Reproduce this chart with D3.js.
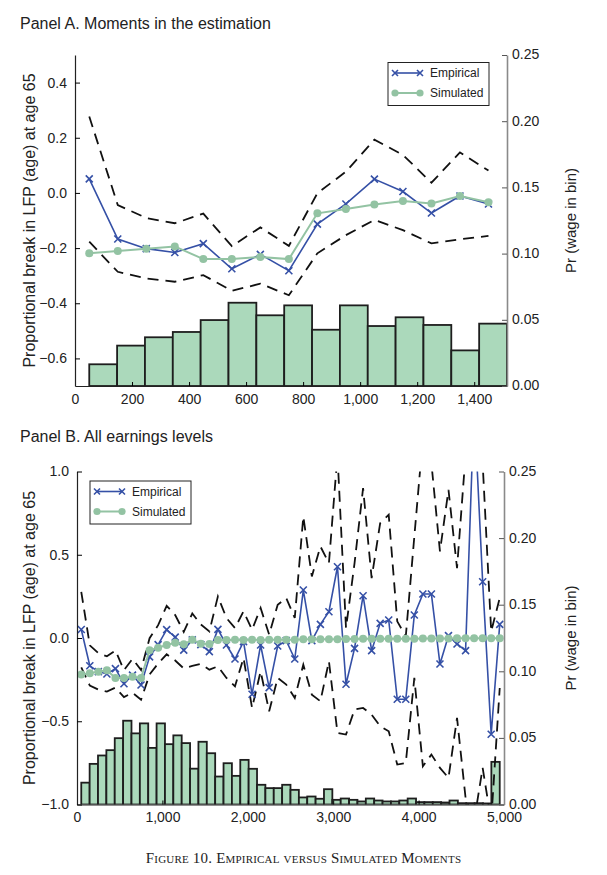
<!DOCTYPE html>
<html><head><meta charset="utf-8">
<script src="https://cdn.jsdelivr.net/npm/d3@7"></script>
<style>
body{margin:0;background:#fff;}
svg text{fill:#222;}
</style></head>
<body><svg id="c" width="607" height="875" font-family="Liberation Sans, Arial, sans-serif"></svg>
<script>
// ---------- DATA ----------
// Panel A: bin midpoints (weekly earnings) and moments
const binsA = [50,150,250,350,450,550,650,750,850,950,1050,1150,1250,1350,1450];
const empiricalA = [0.051,-0.167,-0.202,-0.216,-0.184,-0.275,-0.223,-0.282,-0.113,-0.040,0.050,0.005,-0.073,-0.011,-0.040];
const simulatedA = [-0.219,-0.211,-0.202,-0.194,-0.240,-0.240,-0.232,-0.240,-0.074,-0.058,-0.042,-0.029,-0.038,-0.011,-0.034];
const upperA = [0.277,-0.044,-0.091,-0.110,-0.075,-0.193,-0.125,-0.192,-0.001,0.077,0.193,0.138,0.037,0.147,0.081];
const lowerA = [-0.177,-0.286,-0.310,-0.322,-0.298,-0.355,-0.329,-0.371,-0.219,-0.153,-0.098,-0.135,-0.183,-0.168,-0.156];
const shareA = [0.0164,0.0305,0.0368,0.0408,0.0498,0.0629,0.0534,0.0609,0.0425,0.0609,0.0453,0.0519,0.0461,0.0269,0.0471];

// Panel B: all earnings levels
const binsB = [50,150,250,350,450,550,650,750,850,950,1050,1150,1250,1350,1450,1550,1650,1750,1850,1950,
  2050,2150,2250,2350,2450,2550,2650,2750,2850,2950,3050,3150,3250,3350,3450,3550,3650,3750,3850,3950,
  4050,4150,4250,4350,4450,4550,4650,4750,4850,4950];
const empiricalB = [0.051,-0.167,-0.202,-0.216,-0.184,-0.275,-0.223,-0.282,-0.113,-0.040,0.050,0.005,-0.073,-0.011,-0.040,
  -0.082,0.052,-0.042,-0.126,-0.022,-0.338,-0.042,-0.298,-0.048,-0.016,-0.126,0.288,-0.016,0.082,0.158,
  0.428,-0.278,-0.062,0.254,-0.076,0.088,0.108,-0.368,-0.368,0.138,0.264,0.264,-0.156,0.014,-0.036,
  -0.076,1.400,0.338,-0.578,0.082];
const simulatedB = [-0.219,-0.211,-0.202,-0.194,-0.240,-0.240,-0.232,-0.240,-0.074,-0.058,-0.042,-0.029,-0.038,-0.011,-0.034,
  -0.036,-0.012,-0.012,-0.010,-0.012,-0.010,-0.012,-0.010,-0.010,-0.010,-0.010,-0.008,-0.008,-0.008,-0.008,
  -0.008,-0.006,-0.006,-0.005,-0.005,-0.005,-0.004,-0.004,-0.004,-0.004,-0.003,-0.003,-0.003,-0.003,-0.002,
  -0.002,-0.002,-0.002,-0.002,-0.002];
const upperB = [0.277,-0.044,-0.091,-0.110,-0.075,-0.193,-0.125,-0.192,-0.001,0.077,0.193,0.138,0.037,0.147,0.081,
  0.040,0.250,0.120,0.060,0.160,0.050,0.180,0.020,0.200,0.240,0.120,0.730,0.370,0.550,0.450,
  1.100,0.060,0.450,0.900,0.360,0.690,0.740,0.100,0.010,0.610,1.200,1.050,0.520,0.890,0.420,
  1.100,1.600,1.050,0.040,0.240];
const lowerB = [-0.177,-0.286,-0.310,-0.322,-0.298,-0.355,-0.329,-0.371,-0.219,-0.153,-0.098,-0.135,-0.183,-0.168,-0.156,
  -0.190,-0.170,-0.240,-0.290,-0.120,-0.420,-0.200,-0.440,-0.240,-0.280,-0.360,-0.160,-0.340,-0.380,-0.140,
  -0.570,-0.580,-0.430,-0.420,-0.460,-0.530,-0.560,-0.760,-0.750,-0.240,-0.770,-0.700,-0.780,-0.840,-0.480,
  -0.960,-1.100,-0.780,-1.100,-0.300];
const shareB = [0.0164,0.0305,0.0368,0.0408,0.0498,0.0629,0.0534,0.0609,0.0425,0.0609,0.0453,0.0519,0.0461,0.0269,0.0471,
  0.0385,0.0210,0.0310,0.0215,0.0335,0.0268,0.0148,0.0123,0.0123,0.0148,0.0110,0.0053,0.0060,0.0043,0.0115,
  0.0035,0.0045,0.0035,0.0023,0.0045,0.0030,0.0023,0.0023,0.0030,0.0045,0.0018,0.0018,0.0018,0.0015,0.0030,
  0.0010,0.0010,0.0010,0.0008,0.0320];

// Tick values / labels
const xTicksA = [0,200,400,600,800,1000,1200,1400];
const yTicksA = [-0.6,-0.4,-0.2,0,0.2,0.4];
const xTicksB = [0,1000,2000,3000,4000,5000];
const yTicksB = [-1,-0.5,0,0.5,1];
const rTicks = [0,0.05,0.10,0.15,0.20,0.25];

const titles = ["Panel A. Moments in the estimation","Panel B. All earnings levels"];
const leftLabel = "Proportional break in LFP (age) at age 65";
const rightLabel = "Pr (wage in bin)";
const legendLabels = ["Empirical","Simulated"];
const caption = "Figure 10. Empirical versus Simulated Moments";

// ---------- STYLE ----------
const BLUE = "#3550a6", GREEN = "#93c3a3", BARFILL = "#abd9bb";
const SANS = "Liberation Sans, Arial, sans-serif";
const svg = d3.select("#c");
const fmtComma = d3.format(",");
const minusFmt = f => v => f(v).replace("-", "\u2212");

function panel(o){
  const g = svg.append("g");
  const x = d3.scaleLinear().domain(o.xDomain).range([o.left, o.right]);
  const y = d3.scaleLinear().domain(o.yDomain).range([o.bottom, o.top]);
  const y2 = d3.scaleLinear().domain([0,0.25]).range([o.bottom, o.top]);
  const xb = d3.scaleBand().domain(o.bins).range([x(o.bins[0]), o.barEnd(x)]).padding(0);

  const clipId = "clip" + o.id;
  svg.append("clipPath").attr("id", clipId).append("rect")
    .attr("x", o.left).attr("y", o.top).attr("width", o.right - o.left).attr("height", o.bottom - o.top);

  // title
  g.append("text").attr("x", 20).attr("y", o.titleY).attr("font-size", 16).text(o.title);

  // bars
  g.append("g").attr("clip-path", `url(#${clipId})`).selectAll("rect").data(o.share).join("rect")
    .attr("x", (d,i) => xb(o.bins[i])).attr("width", xb.bandwidth())
    .attr("y", d => y2(d)).attr("height", d => y2(0) - y2(d))
    .attr("fill", BARFILL).attr("stroke", "#1e1e1e").attr("stroke-width", 1.8);

  const lineGen = arr => d3.line().x((d,i) => x(o.bins[i])).y(d => y(d))(arr);
  const lg = g.append("g").attr("clip-path", `url(#${clipId})`);
  [o.upper, o.lower].forEach(arr => lg.append("path").attr("d", lineGen(arr))
      .attr("fill","none").attr("stroke","#111").attr("stroke-width",1.8).attr("stroke-dasharray","11,7"));
  lg.append("path").attr("d", lineGen(o.emp)).attr("fill","none").attr("stroke",BLUE).attr("stroke-width",1.6);
  lg.selectAll("path.xm").data(o.emp).join("path").attr("class","xm")
    .attr("transform",(d,i)=>`translate(${x(o.bins[i])},${y(d)})`)
    .attr("d","M-3.5,-3.5L3.5,3.5M-3.5,3.5L3.5,-3.5").attr("stroke",BLUE).attr("stroke-width",1.6);
  lg.append("path").attr("d", lineGen(o.sim)).attr("fill","none").attr("stroke",GREEN).attr("stroke-width",2);
  lg.selectAll("circle").data(o.sim).join("circle")
    .attr("cx",(d,i)=>x(o.bins[i])).attr("cy",d=>y(d)).attr("r",4).attr("fill",GREEN);

  // axes
  const ax = g.append("g").attr("transform",`translate(0,${o.bottom})`)
    .call(d3.axisBottom(x).tickValues(o.xTicks).tickFormat(fmtComma).tickSizeInner(-4).tickSizeOuter(0).tickPadding(8));
  const ayl = g.append("g").attr("transform",`translate(${o.left},0)`)
    .call(d3.axisLeft(y).tickValues(o.yTicks).tickFormat(minusFmt(d3.format(".1f"))).tickSizeInner(-5).tickSizeOuter(0).tickPadding(8));
  const ayr = g.append("g").attr("transform",`translate(${o.right},0)`)
    .call(d3.axisRight(y2).tickValues(rTicks).tickFormat(d3.format(".2f")).tickSizeInner(-5).tickSizeOuter(0).tickPadding(5));
  [ax, ayl, ayr].forEach(a => { a.attr("font-family", SANS); a.selectAll("text").attr("font-size",14).attr("fill","#222"); });
  ayr.selectAll("text").attr("dy","0.28em");
  ax.select(".domain").attr("stroke","#222").attr("stroke-width",1.2);
  ayl.select(".domain").attr("stroke","#222").attr("stroke-width",1.2);
  ayr.select(".domain").attr("stroke","#8a8a8a").attr("stroke-width",1.6);
  ayr.selectAll(".tick line").attr("stroke","#555");

  // axis titles
  g.append("text").attr("transform",`translate(35,${(o.top+o.bottom)/2}) rotate(-90)`)
    .attr("text-anchor","middle").attr("font-size",16).text(leftLabel);
  g.append("text").attr("transform",`translate(576,${(o.top+o.bottom)/2}) rotate(-90)`)
    .attr("text-anchor","middle").attr("font-size",15).text(rightLabel);

  // legend
  const L = g.append("g").attr("transform",`translate(${o.legX},${o.legY})`);
  L.append("rect").attr("width",101).attr("height",43).attr("fill","#fff").attr("stroke","#222").attr("stroke-width",1);
  const rows = [{c:BLUE,t:legendLabels[0],m:"x"},{c:GREEN,t:legendLabels[1],m:"o"}];
  rows.forEach((r,k)=>{
    const yy = 10.5 + k*20;
    L.append("line").attr("x1",7).attr("x2",32).attr("y1",yy).attr("y2",yy).attr("stroke",r.c).attr("stroke-width",r.m==="x"?1.6:2);
    [7,32].forEach(px=>{
      if(r.m==="x") L.append("path").attr("transform",`translate(${px},${yy})`).attr("d","M-3,-3L3,3M-3,3L3,-3").attr("stroke",r.c).attr("stroke-width",1.6);
      else L.append("circle").attr("cx",px).attr("cy",yy).attr("r",3.6).attr("fill",r.c);
    });
    L.append("text").attr("x",42).attr("y",yy+4.3).attr("font-size",12).text(r.t);
  });
}

panel({id:"A", title:titles[0], titleY:29, left:75, right:507, top:55, bottom:386,
  xDomain:[0,1515], yDomain:[-0.7,0.5], bins:binsA, barEnd: x => x.range()[1],
  emp:empiricalA, sim:simulatedA, upper:upperA, lower:lowerA, share:shareA,
  xTicks:xTicksA, yTicks:yTicksA, legX:388, legY:62.5});

panel({id:"B", title:titles[1], titleY:442, left:77, right:504, top:471.5, bottom:804.5,
  xDomain:[0,5000], yDomain:[-1,1], bins:binsB, barEnd: x => x(binsB[binsB.length-1]),
  emp:empiricalB, sim:simulatedB, upper:upperB, lower:lowerB, share:shareB,
  xTicks:xTicksB, yTicks:yTicksB, legX:90, legY:481});

svg.append("text").attr("x",303.5).attr("y",863).attr("text-anchor","middle")
  .attr("font-family","Liberation Serif, Times New Roman, serif").style("font-variant","small-caps")
  .style("letter-spacing","0.2px").attr("font-size",15).text(caption);
</script></body></html>
